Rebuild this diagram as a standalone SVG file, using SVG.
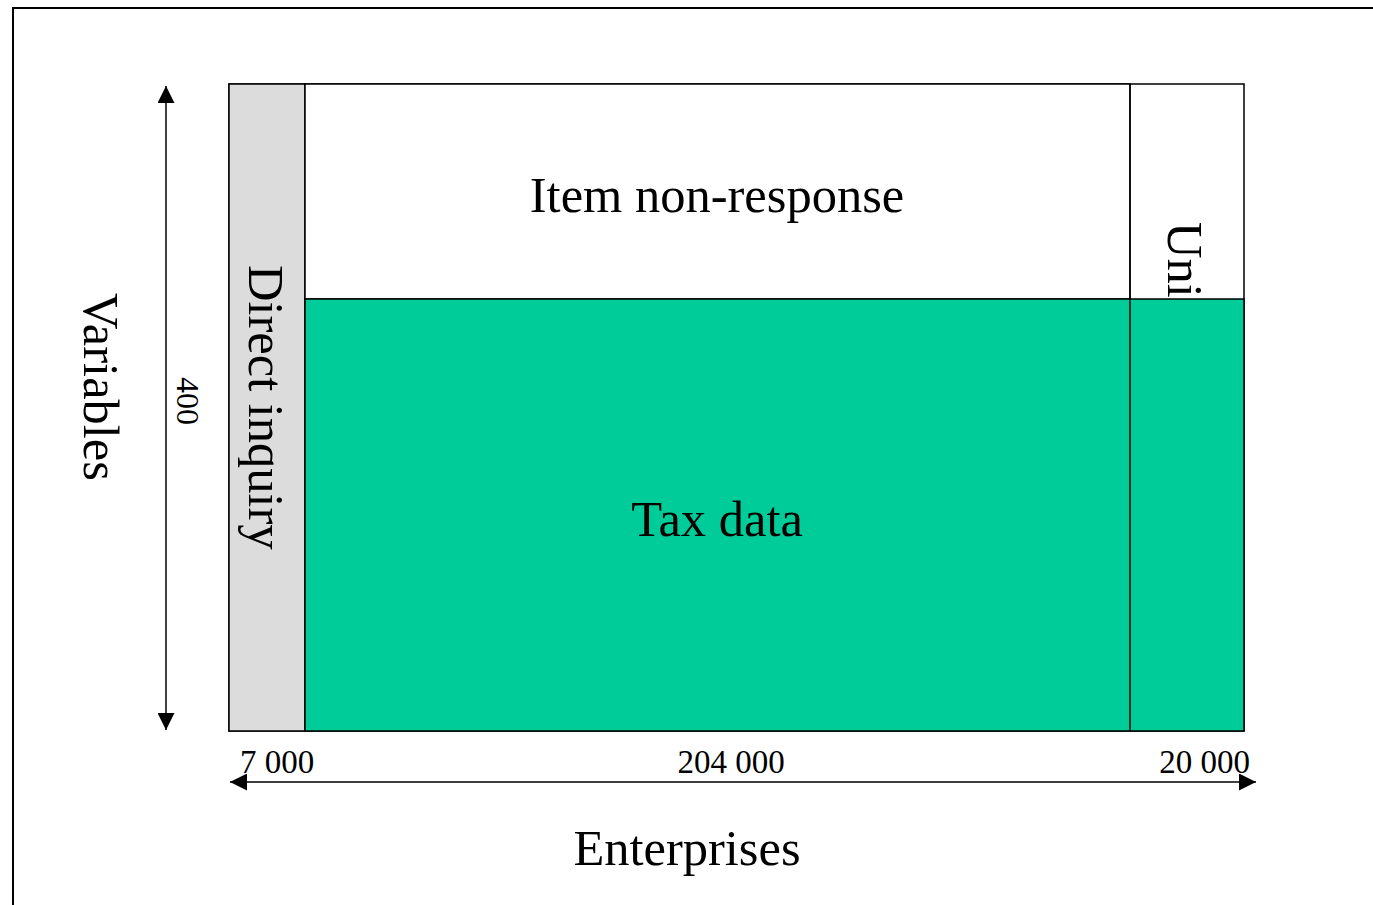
<svg xmlns="http://www.w3.org/2000/svg" width="1373" height="905" viewBox="0 0 1373 905">
<style>
text{font-family:"Liberation Serif","Times New Roman",serif;fill:#000}
.big{font-size:50.5px}
.num{font-size:33px}
.ln{stroke:#000;stroke-width:1.5;fill:none}
</style>
<defs>
<marker id="ah" viewBox="0 0 10 10" refX="10" refY="5" markerWidth="17" markerHeight="17" markerUnits="userSpaceOnUse" orient="auto-start-reverse">
<path d="M0,0 L10,5 L0,10 z" fill="#000"/>
</marker>
<clipPath id="uclip"><rect x="1131" y="85" width="113" height="214"/></clipPath>
</defs>
<rect x="0" y="0" width="1373" height="905" fill="#fff"/>
<path d="M13,905 L13,8 L1373,8" fill="none" stroke="#000" stroke-width="2"/>
<g id="outer"><rect x="229" y="84" width="1015" height="647" fill="#fff" stroke="#000" stroke-width="1.5"/></g>
<g id="direct-inquiry">
<rect x="229" y="84" width="76" height="647" fill="#dcdcdc" stroke="#000" stroke-width="1.5"/>
<text class="big" transform="translate(249,265) rotate(90)">Direct inquiry</text>
</g>
<g id="item-non-response">
<rect x="305" y="84" width="825" height="215" fill="#fff" stroke="#000" stroke-width="1.5"/>
<text class="big" x="717" y="212" text-anchor="middle">Item non-response</text>
</g>
<g id="tax-data">
<rect x="305" y="299" width="939" height="432" fill="#00cc99" stroke="#000" stroke-width="1.5"/>
<text class="big" x="717" y="536" text-anchor="middle">Tax data</text>
</g>
<g id="unit-non-response">
<line class="ln" x1="1130" y1="84" x2="1130" y2="731"/>
<g clip-path="url(#uclip)">
<text class="big" transform="translate(1168,222) rotate(90)">Uni</text>
</g>
</g>
<g id="connectors">
<line class="ln" x1="166" y1="86" x2="166" y2="730" marker-start="url(#ah)" marker-end="url(#ah)"/>
<line class="ln" x1="230" y1="782" x2="1256" y2="782" marker-start="url(#ah)" marker-end="url(#ah)"/>
</g>
<g id="labels">
<text class="big" transform="translate(84,293) rotate(90)">Variables</text>
<text style="font-size:32px" transform="translate(177,377) rotate(90)">400</text>
<text class="num" x="240" y="773">7 000</text>
<text class="num" x="731" y="773" text-anchor="middle">204 000</text>
<text class="num" x="1250" y="773" text-anchor="end">20 000</text>
<text class="big" x="687" y="865" text-anchor="middle">Enterprises</text>
</g>
</svg>
